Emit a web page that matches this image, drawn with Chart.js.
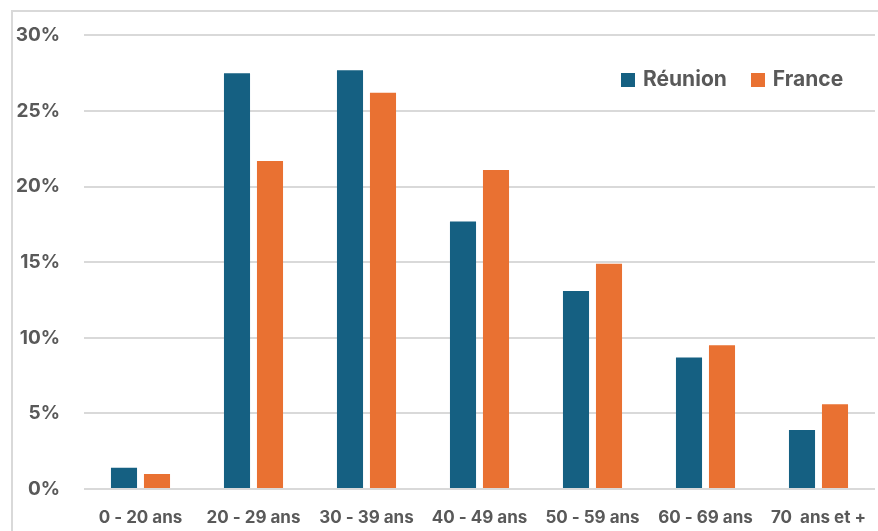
<!DOCTYPE html>
<html>
<head>
<meta charset="utf-8">
<script src="https://cdn.jsdelivr.net/npm/chart.js@4"></script>
<style>
  html, body { margin: 0; padding: 0; background: #fff; }
  #wrap { position: relative; width: 878px; height: 531px; overflow: hidden; }
  #frame { position: absolute; left: 11px; top: 10px; width: 880px; height: 560px;
           border: 2px solid #d9d9d9; box-sizing: border-box; }
  #graph { position: absolute; left: 0; top: 0; }
  #legend { position: absolute; left: 621px; top: 66px; font: bold 21px Inter, sans-serif;
            color: #595959; white-space: nowrap; }
  #legend span.box { display: inline-block; width: 14px; height: 14px; margin-right: 8px;
                     vertical-align: -1px; }
  #legend span.item { margin-right: 24px; }
</style>
</head>
<body>
<div id="wrap">
  <div id="frame"></div>
  <canvas id="graph" width="878" height="531"></canvas>
  <div id="legend"></div>
</div>
<script>
var Labels = ["0 - 20 ans", "20 - 29 ans", "30 - 39 ans", "40 - 49 ans", "50 - 59 ans", "60 - 69 ans", "70  ans et +"];
var reunion = [1.4, 27.5, 27.7, 17.7, 13.1, 8.7, 3.9];
var france = [1.0, 21.7, 26.2, 21.1, 14.9, 9.5, 5.6];
var seriesNames = ["Réunion", "France"];
var seriesColors = ["#156082", "#E97132"];

var gray = "#595959";

var ctx = document.getElementById("graph").getContext("2d");
var myChart = new Chart(ctx, {
	type : 'bar',
	data : {
		labels : Labels,
		datasets : [
			{
				label : seriesNames[0],
				data : reunion,
				backgroundColor : seriesColors[0],
				categoryPercentage : 0.584,
				barPercentage : 0.79
			},
			{
				label : seriesNames[1],
				data : france,
				backgroundColor : seriesColors[1],
				categoryPercentage : 0.584,
				barPercentage : 0.79
			}
		]
	},
	options : {
		responsive : false,
		animation : false,
		layout : { padding : { top : 33, right : 3, left : 0, bottom : 0 } },
		plugins : {
			legend : { display : false },
			tooltip : { enabled : false }
		},
		scales : {
			x : {
				grid : { display : false, drawTicks : false },
				border : { display : false },
				ticks : {
					color : gray,
					padding : 19,
					maxRotation : 0,
					autoSkip : false,
					font : { family : "Inter", size : 17, weight : "bold" }
				},
				afterFit : function(scale) {
					scale.height = 42;
					// labels fit inside their category, no extra side padding
					scale.paddingLeft = 0;
					scale.paddingRight = 0;
				}
			},
			y : {
				min : 0,
				max : 30,
				grid : { color : "#d9d9d9", lineWidth : 2, drawTicks : false },
				border : { display : false },
				ticks : {
					stepSize : 5,
					color : gray,
					padding : 24,
					font : { family : "Inter", size : 19, weight : "bold" },
					callback : function(v) { return v + "%"; }
				},
				afterFit : function(scale) { scale.width = 84; }
			}
		}
	}
});

var legend = document.getElementById("legend");
seriesNames.forEach(function(name, i) {
	var item = document.createElement("span");
	item.className = "item";
	var box = document.createElement("span");
	box.className = "box";
	box.style.background = seriesColors[i];
	item.appendChild(box);
	item.appendChild(document.createTextNode(name));
	legend.appendChild(item);
});
</script>
</body>
</html>
